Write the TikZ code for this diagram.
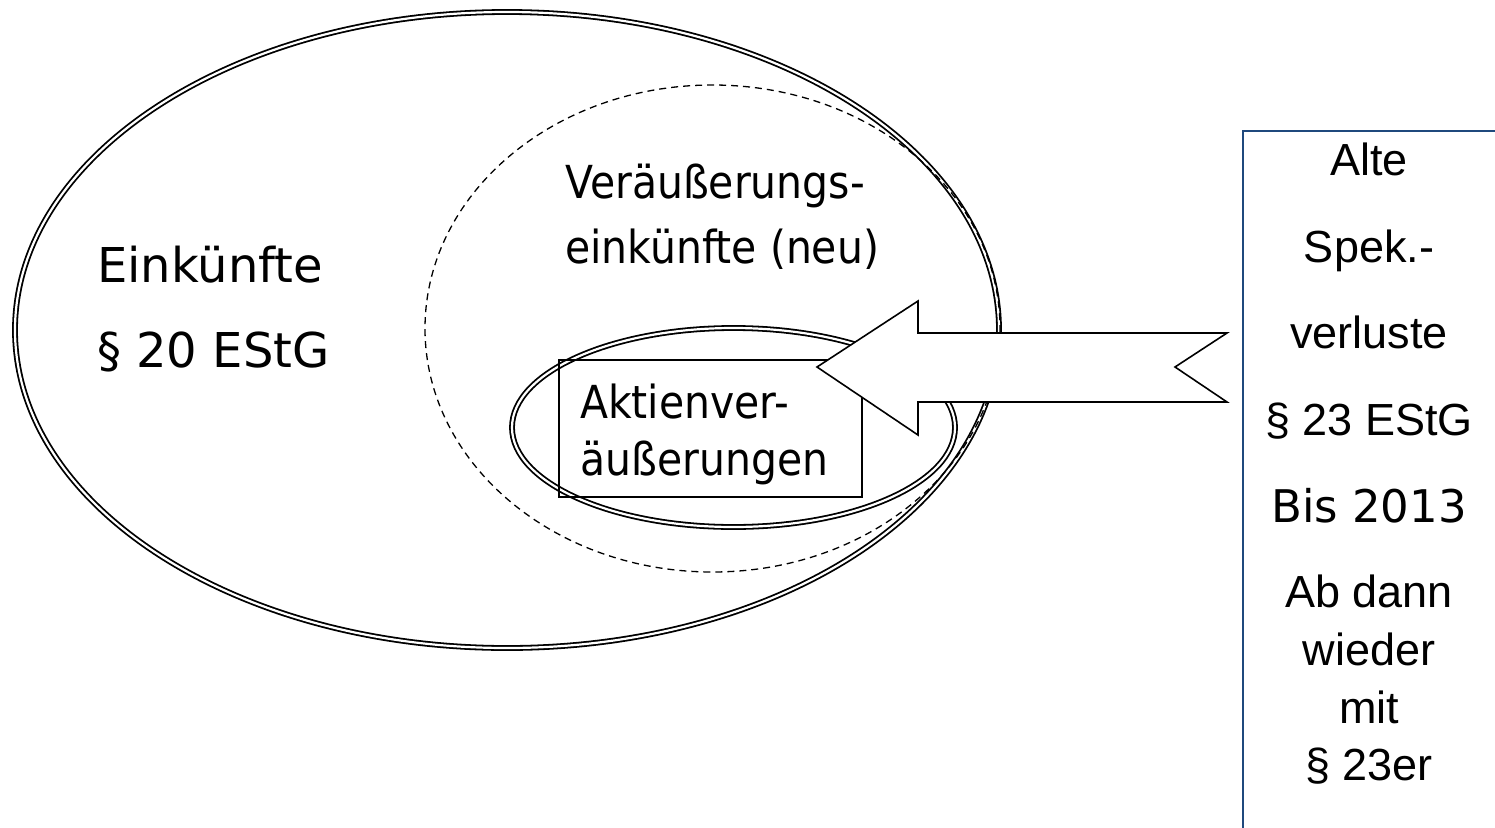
\documentclass[tikz,border=0pt]{standalone}
\usepackage{fontspec}
\setmainfont{DejaVu Sans}
\newfontfamily\verd{DejaVu Sans}
\newfontfamily\tah[FakeStretch=0.9]{DejaVu Sans}
\newfontfamily\ari{Liberation Sans}
\definecolor{boxblue}{RGB}{31,73,125}
\tikzset{
  dbl/.style={draw=black,line width=1.8pt,double=white,double distance=2.2pt},
  dashell/.style={draw=black,line width=1.3pt,dash pattern=on 7pt off 5pt},
  biglbl/.style={anchor=base west,inner sep=0pt,font=\verd\fontsize{48}{58}\selectfont},
  midlbl/.style={anchor=base west,inner sep=0pt,font=\tah\fontsize{45.5}{55}\selectfont},
  rlbl/.style={anchor=base,inner sep=0pt,font=\ari\fontsize{45}{54}\selectfont},
  arrowshape/.style={draw=black,fill=white,line width=1.6pt,line join=miter},
  framebox/.style={draw=black,line width=1.6pt}
}
\begin{document}
\begin{tikzpicture}[x=1pt,y=-1pt]
\useasboundingbox (0,0) rectangle (1495,827);
% ellipses
\draw[dbl] (507,330) ellipse (492 and 318);
\draw[dashell] (712.5,328.5) ellipse (287.5 and 243.5);
\draw[dbl] (733.5,427.5) ellipse (221.5 and 99.5);
% box around inner label
\draw[framebox] (559,360) rectangle (862,497);
% arrow
\draw[arrowshape] (817,367) -- (918,301) -- (918,333) -- (1227,333) -- (1175,367)
  -- (1227,402) -- (918,402) -- (918,435) -- cycle;
% right box
\coordinate (rbbl) at (1243,840);
\coordinate (rbtl) at (1243,131);
\coordinate (rbtr) at (1510,131);
\draw[draw=boxblue,line width=2.2pt] (rbbl) -- (rbtl) -- (rbtr);
% labels
\node[biglbl] (ein) at (97,282) {Einkünfte};
\node[biglbl] (par20) at (97,367) {§ 20 EStG};
\node[midlbl] (ver1) at (565,198) {Veräußerungs-};
\node[midlbl] (ver2) at (565,263) {einkünfte (neu)};
\node[midlbl] (akt1) at (580,418) {Aktienver-};
\node[midlbl] (akt2) at (580,475) {äußerungen};
% right box text
\node[rlbl] (r1) at (1369,175) {Alte};
\node[rlbl] (r2) at (1369,262) {Spek.-};
\node[rlbl] (r3) at (1369,348) {verluste};
\node[rlbl] (r4) at (1369,435) {§ 23 EStG};
\node[rlbl,font=\verd\fontsize{45}{54}\selectfont] (r5) at (1369,522) {Bis 2013};
\node[rlbl] (r6) at (1369,607) {Ab dann};
\node[rlbl] (r7) at (1369,665) {wieder};
\node[rlbl] (r8) at (1369,723) {mit};
\node[rlbl] (r9) at (1369,780) {§ 23er};
\end{tikzpicture}
\end{document}
